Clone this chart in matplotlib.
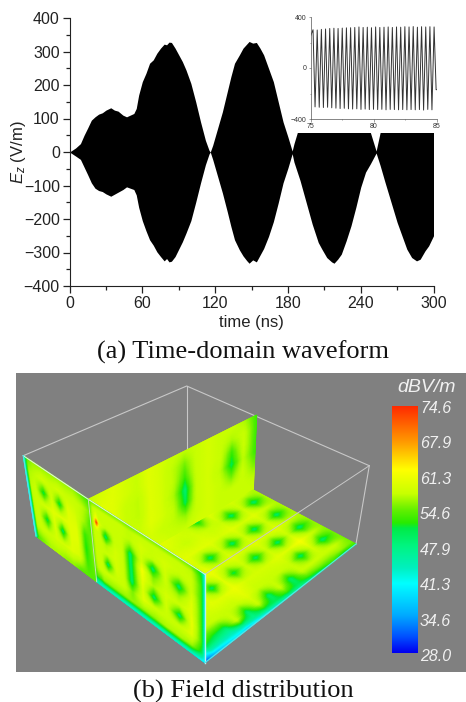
import numpy as np
import matplotlib
matplotlib.use("Agg")
import matplotlib.pyplot as plt
from matplotlib.colors import LinearSegmentedColormap
from matplotlib.patches import Rectangle
from matplotlib.ticker import MultipleLocator

plt.rcParams["font.family"] = ["Liberation Sans", "DejaVu Sans"]
plt.rcParams["mathtext.fontset"] = "custom"
plt.rcParams["mathtext.rm"] = "Liberation Sans"
plt.rcParams["mathtext.it"] = "Liberation Sans:italic"

W, H = 466, 702

# waveform envelope
t_env = [0, 5, 9, 12, 15, 18, 21, 24, 27, 30, 34, 37, 40, 44, 47, 50, 53, 55, 57, 60, 63, 66, 69, 72, 75, 78, 80, 82, 84,
         87, 90, 93, 96, 100, 104, 108, 112, 115, 116, 118, 122, 126, 130, 133, 136, 140, 143, 146, 148, 151, 154,
         157, 160, 164, 168, 172, 176, 180, 183.5, 185, 190, 195, 200, 205, 208, 212, 216, 218, 221, 224, 228, 232,
         236, 240, 244, 248, 252.7, 256, 260, 265, 270, 275, 278, 282, 286, 289, 293, 296, 300]
env_upper = [0, 12, 25, 50, 72, 95, 105, 113, 117, 125, 132, 125, 122, 110, 105, 110, 115, 130, 170, 210, 235, 265, 275,
             295, 310, 322, 320, 328, 327, 310, 290, 270, 245, 205, 150, 90, 35, 5, 0, 20, 70, 120, 180, 225, 265, 290,
             310, 322, 330, 325, 327, 310, 290, 250, 210, 150, 90, 45, 3, 25, 85, 150, 215, 270, 290, 315, 328, 332,
             320, 305, 265, 220, 165, 105, 60, 58, 3, 58, 90, 150, 210, 260, 290, 315, 325, 320, 295, 280, 250]
env_lower = [0, -12, -22, -45, -68, -92, -108, -115, -118, -125, -132, -126, -120, -112, -104, -108, -112, -128, -165,
             -205, -235, -262, -278, -298, -312, -325, -318, -328, -326, -312, -290, -268, -242, -205, -150, -92, -38,
             -6, 0, -22, -72, -122, -178, -222, -262, -292, -310, -324, -332, -322, -328, -308, -288, -252, -208, -152,
             -92, -48, -5, -30, -85, -150, -215, -270, -290, -315, -328, -332, -320, -305, -265, -220, -165, -105, -60,
             -35, -3, -40, -90, -150, -210, -260, -290, -315, -325, -320, -295, -280, -250]

# inset: successive crests and troughs of the 3 GHz signal
inset_t = [75.0, 75.2, 75.36, 75.53, 75.69, 75.86, 76.02, 76.19, 76.35, 76.52, 76.68, 76.85, 77.01, 77.18, 77.34, 77.51,
           77.67, 77.84, 78.0, 78.17, 78.33, 78.5, 78.66, 78.83, 78.99, 79.16, 79.32, 79.49, 79.65, 79.82, 79.98, 80.15,
           80.31, 80.48, 80.64, 80.81, 80.97, 81.14, 81.3, 81.47, 81.63, 81.8, 81.96, 82.13, 82.29, 82.46, 82.62, 82.79,
           82.95, 83.12, 83.28, 83.45, 83.61, 83.78, 83.94, 84.11, 84.27, 84.44, 84.6, 84.77, 84.93, 85.0]
inset_v = [250, 300, -305, 298, -308, 303, -310, 306, -308, 310, -312, 312, -315, 310, -318, 313, -316, 315, -320, 316,
           -322, 318, -320, 322, -325, 318, -322, 320, -326, 316, -324, 322, -326, 318, -324, 320, -328, 322, -325, 318,
           -326, 322, -328, 320, -326, 324, -328, 322, -326, 325, -328, 320, -326, 324, -330, 322, -325, 324, -328, 322,
           -170, -170]

main_yticks = [-400, -300, -200, -100, 0, 100, 200, 300, 400]
main_xticks = [0, 60, 120, 180, 240, 300]
inset_xticks = [75, 80, 85]
inset_yticks = [-400, 0, 400]

# colour scale
cbar_labels = ["74.6", "67.9", "61.3", "54.6", "47.9", "41.3", "34.6", "28.0"]
cmap_vals = [28, 31, 35, 41, 44, 48, 51.5, 52.5, 55, 58, 62.5, 68, 74.6]
cmap_cols = ["#0000f0", "#0050ff", "#00aaff", "#00ffff", "#00f0be", "#00f582", "#00eb46", "#28eb00", "#64f000",
             "#c8ff00", "#ffff00", "#ff9600", "#ff2800"]
vmin, vmax = 28.0, 74.6

# field on the four faces, dB V/m, rows run from the top/back edge
left_vals = [[46, 53, 55, 55, 55, 55, 55, 55, 53, 52],
             [46, 56, 57, 59, 58, 59, 58, 58, 57, 54],
             [44, 57, 58, 50, 59, 50, 60, 59, 56, 52],
             [44, 57, 58, 59, 60, 60, 60, 60, 52, 54],
             [44, 57, 58, 50, 60, 49, 60, 60, 51, 55],
             [44, 57, 58, 58, 59, 59, 60, 59, 52, 54],
             [46, 53, 54, 56, 56, 55, 55, 53, 53, 53]]
left_u = [0, .05, .125, .25, .375, .5, .625, .75, .875, 1]
back_vals = [[58, 59, 60, 59, 58, 60, 59, 58, 57, 58, 59, 58, 58, 56, 52],
             [58, 60, 60, 59, 58, 60, 59, 57, 54, 58, 59, 58, 56, 58, 52],
             [58, 60, 60, 58, 57, 60, 59, 57, 52, 58, 59, 58, 52, 58, 52],
             [58, 60, 60, 58, 57, 60, 59, 56, 49, 58, 59, 57, 50, 57, 52],
             [58, 59, 60, 58, 58, 60, 59, 57, 50, 58, 59, 58, 54, 58, 54],
             [58, 59, 59, 58, 58, 59, 58, 57, 55, 58, 59, 58, 58, 58, 57],
             [58, 59, 59, 58, 58, 59, 59, 58, 58, 59, 59, 58, 58, 58, 58]]
floor_vals = [[56, 56, 56, 56, 56, 55, 55, 54, 54, 54, 52],
              [58, 49, 58, 49, 58, 49, 58, 49, 58, 55, 50],
              [59, 58, 60, 58, 60, 58, 62, 59, 58, 54, 52],
              [58, 49, 59, 49, 59, 49, 60, 49, 58, 54, 50],
              [60, 58, 60, 58, 60, 58, 60, 58, 58, 53, 49],
              [50, 58, 59, 49, 59, 49, 59, 58, 49, 50, 48],
              [58, 59, 60, 58, 60, 58, 59, 58, 58, 52, 47],
              [59, 58, 60, 49, 59, 50, 59, 58, 49, 50, 46],
              [60, 59, 60, 59, 61, 60, 61, 60, 58, 50, 45],
              [60, 59, 60, 59, 60, 49, 60, 58, 49, 48, 44],
              [59, 59, 60, 59, 60, 60, 60, 58, 58, 47, 43],
              [59, 58, 59, 58, 59, 58, 59, 58, 49, 46, 44],
              [58, 58, 58, 58, 58, 58, 58, 57, 50, 46, 43],
              [58, 58, 58, 58, 58, 58, 57, 56, 52, 46, 42],
              [49, 49, 49, 49, 47, 46, 45, 44, 42, 42, 40]]
floor_u = [0, .111, .222, .333, .444, .556, .667, .778, .889, .96, 1]
front_vals = [[53, 53, 53, 53, 53, 53, 53, 53, 53, 53, 53, 53, 53, 50, 44],
              [53, 57, 58, 58, 58, 58, 58, 57, 58, 58, 58, 58, 57, 51, 44],
              [53, 58, 62, 58, 58, 58, 58, 57, 59, 58, 59, 58, 58, 52, 44],
              [53, 58, 74.6, 60, 57, 58, 58, 55, 59, 57, 59, 56, 58, 52, 44],
              [53, 58, 62, 58, 52, 58, 58, 52, 59, 52, 59, 52, 58, 52, 44],
              [53, 58, 58, 58, 49, 58, 58, 49, 59, 49, 59, 49, 59, 52, 44],
              [53, 58, 58, 58, 56, 59, 58, 49, 62, 54, 58, 55, 60, 52, 44],
              [53, 58, 58, 58, 58, 59, 58, 49, 61, 56, 59, 58, 60, 52, 44],
              [53, 58, 58, 58, 49, 59, 58, 49, 60, 49, 59, 49, 61, 52, 44],
              [53, 57, 58, 58, 58, 58, 58, 54, 60, 58, 58, 58, 60, 52, 44],
              [52, 53, 53, 55, 55, 55, 55, 55, 55, 55, 56, 56, 55, 50, 44],
              [46, 46, 46, 46, 46, 46, 46, 46, 46, 46, 46, 46, 46, 45, 44]]
front_u = [0, .025, .05, .075, .125, .2, .27, .34, .44, .54, .65, .77, .88, .97, 1]
front_v = [0, .08, .18, .24, .3, .35, .45, .55, .68, .8, .92, 1]

# corners in picture pixels: top-left, top-right, bottom-right, bottom-left
left_quad = [(23.3, 455.7), (88.3, 499.3), (96.7, 581.7), (36, 536)]
front_quad = [(88.3, 499.3), (205, 574.3), (205, 662.7), (96.7, 581.7)]
back_quad = [(88.3, 499.3), (256.7, 415), (253.3, 490), (96.7, 581.7)]
floor_quad = [(253.3, 490), (356, 544), (205, 662.7), (96.7, 581.7)]


def px_axes(x0, y0, x1, y1, **kw):
    return fig.add_axes([x0 / W, 1 - y1 / H, (x1 - x0) / W, (y1 - y0) / H], **kw)


def draw_face(ax, quad, vals, u=None, v=None):
    vals = np.array(vals, dtype=float)
    nv, nu = vals.shape
    u = np.linspace(0, 1, nu) if u is None else np.array(u)
    v = np.linspace(0, 1, nv) if v is None else np.array(v)
    # resample so the colour map is applied to the field, not to blended corner colours
    uf = np.linspace(0, 1, 120)
    vf = np.linspace(0, 1, 120)
    tmp = np.array([np.interp(uf, u, row) for row in vals])
    fine = np.array([np.interp(vf, v, col) for col in tmp.T]).T
    # the grid is coarse, tighten the cool spots around their nodes
    low = fine < 58
    fine[low] = 58 - 9 * ((58 - fine[low]) / 9) ** 1.6
    uu, vv = np.meshgrid(uf, vf)
    q = np.array(quad)
    top = q[0][:, None, None] * (1 - uu) + q[1][:, None, None] * uu
    bot = q[3][:, None, None] * (1 - uu) + q[2][:, None, None] * uu
    xy = top * (1 - vv) + bot * vv
    ax.pcolormesh(xy[0], xy[1], fine, shading="gouraud", cmap=cmap, vmin=vmin, vmax=vmax, rasterized=True)


fig = plt.figure(figsize=(W / 100, H / 100), dpi=100, facecolor="white")

# top panel
ax = px_axes(69.5, 18, 433.5, 286)
ax.fill_between(t_env, env_lower, env_upper, color="black", lw=0)
ax.set_xlim(0, 300)
ax.set_ylim(-400, 400)
ax.set_xticks(main_xticks)
ax.set_yticks(main_yticks)
ax.xaxis.set_minor_locator(MultipleLocator(30))
ax.yaxis.set_minor_locator(MultipleLocator(50))
ax.spines[["top", "right"]].set_visible(False)
ax.spines[["left", "bottom"]].set_color("#222222")
ax.tick_params(which="major", length=5, width=0.9, labelsize=11.5, color="#222222", labelcolor="#222222", pad=2)
ax.tick_params(which="minor", length=3, width=0.9, color="#222222")
ax.set_xlabel("time (ns)", fontsize=12, color="#222222", labelpad=3)
ax.set_ylabel(r"$E_z$ (V/m)", fontsize=12, color="#222222", labelpad=-3)

# the inset sits on a white block that cuts the tops of the last lobes
fig.add_artist(Rectangle((296 / W, 1 - 132.5 / H), 170 / W, 132.5 / H, transform=fig.transFigure,
                         facecolor="white", edgecolor="none", zorder=1))

ins = px_axes(310.5, 17, 437, 119, zorder=2)
ins.patch.set_alpha(0)
ins.plot(inset_t, inset_v, color="#333333", lw=0.7)
ins.set_xlim(75, 85)
ins.set_ylim(-400, 400)
ins.set_xticks(inset_xticks)
ins.set_yticks(inset_yticks)
ins.xaxis.set_minor_locator(MultipleLocator(2.5))
ins.yaxis.set_minor_locator(MultipleLocator(200))
ins.spines[["top", "right"]].set_visible(False)
ins.spines[["left", "bottom"]].set_color("#555555")
ins.spines[["left", "bottom"]].set_linewidth(0.5)
ins.tick_params(which="major", length=1.8, width=0.4, labelsize=5, color="#555555", labelcolor="#333333", pad=1)
ins.tick_params(which="minor", length=1, width=0.4, color="#555555")

fig.text(243 / W, 1 - 352.5 / H, "(a) Time-domain waveform", family="Liberation Serif", fontsize=19, ha="center",
         va="center", color="#111111")
fig.text(243 / W, 1 - 691 / H, "(b) Field distribution", family="Liberation Serif", fontsize=19, ha="center",
         va="center", color="#111111")

# bottom panel, drawn in picture pixels
cmap = LinearSegmentedColormap.from_list(
    "field", [((v - vmin) / (vmax - vmin), c) for v, c in zip(cmap_vals, cmap_cols)], N=512)

fld = px_axes(16, 373, 466, 672, facecolor="#808080")
fld.set_xlim(16, 466)
fld.set_ylim(672, 373)
fld.axis("off")
fld.add_patch(Rectangle((16, 373), 450, 299, facecolor="#808080", edgecolor="none", zorder=0))

wire = "#c8c8c8"
fld.plot([23.3, 186.7, 369.3], [455.7, 386, 465.7], color=wire, lw=0.8, zorder=1)
fld.plot([186.7, 186.7], [386, 450], color=wire, lw=0.8, zorder=1)
fld.plot([369.3, 356], [465.7, 544], color=wire, lw=0.8, zorder=1)

draw_face(fld, back_quad, back_vals)
draw_face(fld, floor_quad, floor_vals, floor_u)
draw_face(fld, left_quad, left_vals, left_u)
draw_face(fld, front_quad, front_vals, front_u, front_v)

fld.plot([369.3, 205], [465.7, 574.3], color=wire, lw=0.7, zorder=5)
fld.plot([23.3, 88.3, 205], [455.7, 499.3, 574.3], color="#dcf0dc", lw=0.8, zorder=5)
fld.plot([88.3, 96.7], [499.3, 581.7], color="#c8dcb4", lw=0.7, zorder=5)
fld.plot([205, 205], [574.3, 662.7], color="#b4f5f5", lw=1.0, zorder=5)
fld.plot([356, 205], [544, 662.7], color="#50e6e6", lw=0.9, zorder=5)
fld.plot([23.3, 36], [455.7, 536], color="#50e6e6", lw=0.9, zorder=5)

# colour bar
cb = px_axes(391.7, 405.7, 417.3, 653.3)
cb.imshow(np.linspace(vmax, vmin, 256)[:, None], aspect="auto", cmap=cmap, vmin=vmin, vmax=vmax)
cb.axis("off")
for i, lab in enumerate(cbar_labels):
    fld.text(420, 408.3 + 35.5 * i, lab, color="#f0f0f0", style="italic", fontsize=11.5, ha="left", va="center")
fld.text(427, 388, "dBV/m", color="#f0f0f0", style="italic", fontsize=14, ha="center", va="center")

fig.savefig("out.png", dpi=100)
